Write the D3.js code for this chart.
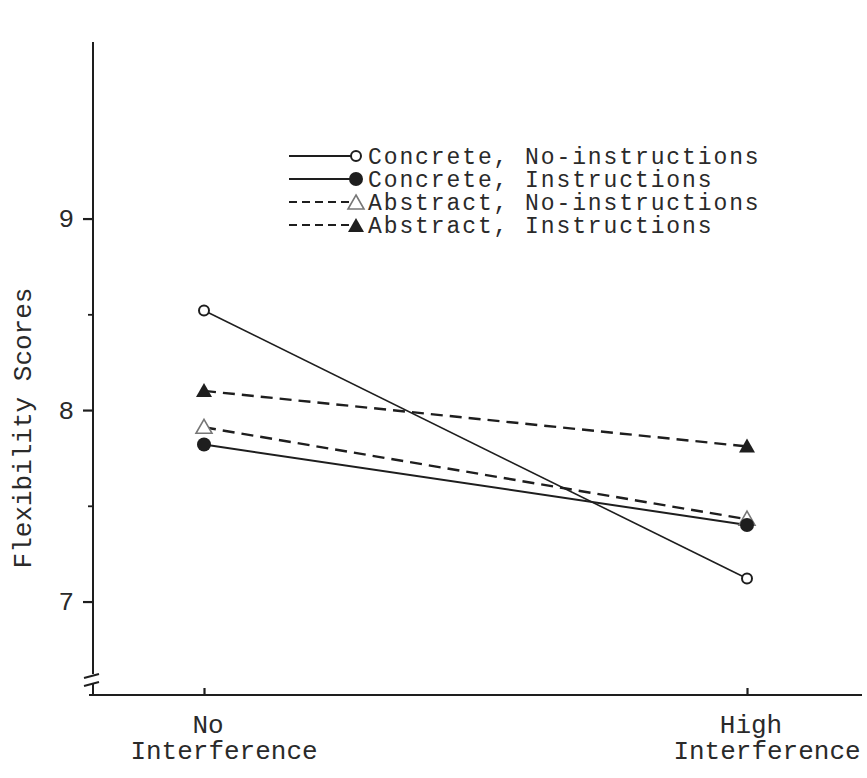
<!DOCTYPE html>
<html><head><meta charset="utf-8">
<script src="https://cdn.jsdelivr.net/npm/d3@7"></script>
<style>body{margin:0;background:#fff}text{font-family:"Liberation Mono","Courier New",monospace;fill:#2a2a2a}</style>
</head><body><svg id="c" width="867" height="778"></svg>
<script>
const categories = ["No Interference", "High Interference"];
const categoryLines = [["No", "Interference"], ["High", "Interference"]];
const seriesNames = ["Concrete, No-instructions", "Concrete, Instructions", "Abstract, No-instructions", "Abstract, Instructions"];
const concreteNoInstr = [8.52, 7.12];
const concreteInstr = [7.82, 7.40];
const abstractNoInstr = [7.91, 7.43];
const abstractInstr = [8.10, 7.81];
const majorTicks = [7, 8, 9];
const minorTicks = [7.5, 8.5];

const series = [
  {name: seriesNames[0], values: concreteNoInstr, dash: null, w: 1.6, marker: "circleOpen"},
  {name: seriesNames[1], values: concreteInstr, dash: null, w: 2, marker: "circleFilled"},
  {name: seriesNames[2], values: abstractNoInstr, dash: "12,7", w: 2.4, marker: "triOpen"},
  {name: seriesNames[3], values: abstractInstr, dash: "12,7", w: 2.4, marker: "triFilled"}
];

const svg = d3.select("#c");
const ink = "#1e1e1e";
const y = d3.scaleLinear().domain([6.512, 9.922]).range([695, 42]);
const x = d3.scalePoint().domain(categories).range([204, 747]);
const axisX0 = 93, axisX1 = 862, axisY = 695;

// y axis line with break
svg.append("line").attr("x1", axisX0).attr("x2", axisX0).attr("y1", y.range()[1]).attr("y2", 674).attr("stroke", ink).attr("stroke-width", 2);
svg.append("line").attr("x1", axisX0).attr("x2", axisX0).attr("y1", 684).attr("y2", axisY).attr("stroke", ink).attr("stroke-width", 2);
[676, 684].forEach(v => {
  svg.append("line").attr("x1", axisX0 - 9).attr("x2", axisX0 + 6).attr("y1", v + 2).attr("y2", v - 2).attr("stroke", ink).attr("stroke-width", 2);
});
// x axis line
svg.append("line").attr("x1", axisX0 - 4).attr("x2", axisX1).attr("y1", axisY).attr("y2", axisY).attr("stroke", ink).attr("stroke-width", 2);

// y ticks
const gy = svg.append("g").attr("transform", `translate(${axisX0},0)`)
  .call(d3.axisLeft(y).tickValues(majorTicks).tickSize(10).tickPadding(9).tickFormat(d3.format("d")));
gy.select(".domain").remove();
gy.selectAll(".tick line").attr("stroke", ink).attr("stroke-width", 2.2);
gy.selectAll(".tick text").attr("font-size", 26).style("font-family", '"Liberation Mono",monospace').attr("fill", "#2a2a2a");
const gm = svg.append("g").attr("transform", `translate(${axisX0},0)`)
  .call(d3.axisLeft(y).tickValues(minorTicks).tickSize(5).tickFormat(""));
gm.select(".domain").remove();
gm.selectAll(".tick line").attr("stroke", ink).attr("stroke-width", 1.8);

// x ticks
const gx = svg.append("g").attr("transform", `translate(0,${axisY})`)
  .call(d3.axisTop(x).tickSize(7).tickFormat(""));
gx.select(".domain").remove();
gx.selectAll(".tick line").attr("stroke", ink).attr("stroke-width", 2.2);
categories.forEach((c, i) => {
  svg.append("text").attr("x", x(c) + 4).attr("y", 733).attr("text-anchor", "middle").attr("font-size", 26).text(categoryLines[i][0]);
  svg.append("text").attr("x", x(c) + 20).attr("y", 759).attr("text-anchor", "middle").attr("font-size", 26).text(categoryLines[i][1]);
});

// y label
svg.append("text").attr("transform", "translate(31,428) rotate(-90)").attr("text-anchor", "middle").attr("font-size", 26).text("Flexibility Scores");

function drawMarker(g, type, cx, cy) {
  if (type === "circleOpen") g.append("circle").attr("cx", cx).attr("cy", cy).attr("r", 5).attr("fill", "#fff").attr("stroke", ink).attr("stroke-width", 2);
  else if (type === "circleFilled") g.append("circle").attr("cx", cx).attr("cy", cy).attr("r", 7).attr("fill", ink);
  else {
    const s = 8;
    const p = `M${cx},${cy - s} L${cx + s},${cy + s * 0.75} L${cx - s},${cy + s * 0.75} Z`;
    if (type === "triOpen") g.append("path").attr("d", p).attr("fill", "#fff").attr("stroke", "#777").attr("stroke-width", 1.6);
    else g.append("path").attr("d", p).attr("fill", ink);
  }
}

const line = d3.line().x((d, i) => x(categories[i])).y(d => y(d));
const order = [2, 3, 1, 0];
order.forEach(k => {
  const s = series[k];
  svg.append("path").datum(s.values).attr("d", line).attr("fill", "none").attr("stroke", ink)
    .attr("stroke-width", s.w).attr("stroke-dasharray", s.dash);
});
order.forEach(k => {
  const s = series[k];
  s.values.forEach((v, i) => drawMarker(svg, s.marker, x(categories[i]), y(v)));
});

// legend
const legY = [156, 179, 202, 225];
series.forEach((s, i) => {
  const g = svg.append("g");
  g.append("line").attr("x1", 289).attr("x2", 352).attr("y1", legY[i]).attr("y2", legY[i]).attr("stroke", ink)
    .attr("stroke-width", s.dash ? 2 : 1.8).attr("stroke-dasharray", s.dash ? "8,5" : null);
  drawMarker(g, s.marker, 356, legY[i] + (s.marker.startsWith("tri") ? 1 : 0));
  g.append("text").attr("x", 368).attr("y", legY[i] + 8).attr("font-size", 23).attr("letter-spacing", 1.9).text(s.name);
});
</script></body></html>
